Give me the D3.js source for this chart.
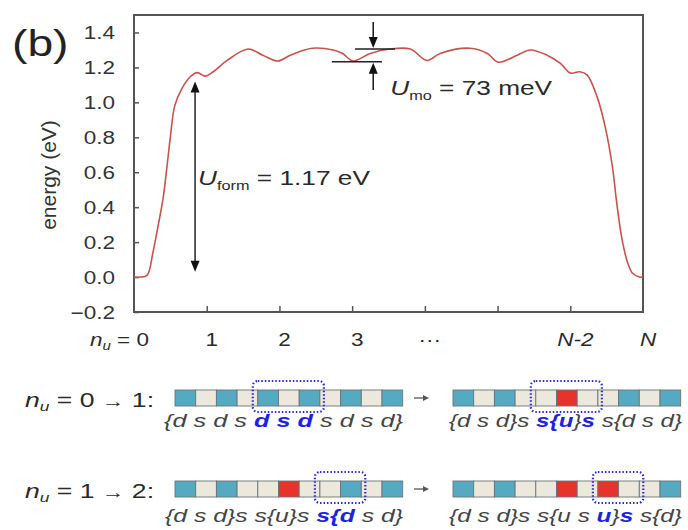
<!DOCTYPE html>
<html><head><meta charset="utf-8">
<script src="https://cdn.jsdelivr.net/npm/d3@7"></script>
<style>body{margin:0;background:#fff}svg{display:block}</style>
</head><body>
<svg id="c" width="688" height="530"></svg>
<script>
// ---- data ----
const positions = [0.00,0.08,0.18,0.26,0.33,0.40,0.45,0.50,0.56,0.66,0.77,0.87,0.98,1.09,1.28,1.57,1.77,1.98,2.15,2.45,2.74,2.87,3.01,3.25,3.52,3.80,4.03,4.21,4.62,4.86,5.01,5.27,5.45,5.68,5.86,6.00,6.13,6.23,6.37,6.48,6.58,6.64,6.71,6.79,6.86,6.95,7.00];
const energies  = [0.00,0.00,0.01,0.14,0.29,0.45,0.62,0.80,0.98,1.08,1.145,1.17,1.15,1.175,1.24,1.305,1.27,1.237,1.27,1.31,1.30,1.28,1.237,1.28,1.305,1.305,1.24,1.28,1.31,1.28,1.23,1.27,1.30,1.27,1.225,1.168,1.175,1.157,1.03,0.86,0.63,0.42,0.22,0.08,0.02,0.00,0.00];
const yTicks = [-0.2,0.0,0.2,0.4,0.6,0.8,1.0,1.2,1.4];
const xTicks = [1,2,3,4,5,6];
const xLabels = ["0","1","2","3","\u00b7\u00b7\u00b7","","N-2","N"];
const xLabelPos = [0,1,2,3,4,5,6,7];
const formTop = 1.12, formBottom = 0.03;
const moUpper = 1.305, moLower = 1.232;
const row1Left  = "dsdsdsdsdsd";
const row1Right = "dsdssussdsd";
const row2Left  = "dsdssussdsd";
const row2Right = "dsdssusussd";
const row1LeftBox = [4,6], row1RightBox = [4,6], row2LeftBox = [7,8], row2RightBox = [7,8];
// label text segments: [text, isBlue]
const row1LeftText  = [["{d s d s ",0],["d s d",1],[" s d s d}",0]];
const row1RightText = [["{d s d}s ",0],["s{u",1],["}",0],["s",1],[" s{d s d}",0]];
const row2LeftText  = [["{d s d}s s{u}s ",0],["s{d",1],[" s d}",0]];
const row2RightText = [["{d s d}s s{u s ",0],["u",1],["}",0],["s",1],[" s{d}",0]];

// ---- drawing ----
const svg = d3.select("#c");
const SX = 1.25;
const FONT = "'Liberation Sans', Arial, sans-serif";
const x = d3.scaleLinear().domain([0,7]).range([134,643]);
const y = d3.scaleLinear().domain([-0.2,1.5]).range([312,15]);

function txt(px, py, size, anchor, sx){
  return svg.append("text")
    .attr("transform", `translate(${px},${py}) scale(${sx||SX},1)`)
    .attr("font-family", FONT).attr("font-size", size)
    .attr("text-anchor", anchor||"start").attr("fill","#2a2a2a");
}

// (b)
txt(12, 56, 37).text("(b)").attr("fill","#222");

// frame
svg.append("rect").attr("x",134).attr("y",15).attr("width",509).attr("height",297)
  .attr("fill","none").attr("stroke","#555").attr("stroke-width",2);

// y axis ticks (inside)
const ya = svg.append("g").attr("transform","translate(134,0)")
  .call(d3.axisLeft(y).tickValues(yTicks).tickSizeInner(-5).tickSizeOuter(0).tickPadding(19).tickFormat(d3.format(".1f")));
ya.select(".domain").remove();
ya.selectAll(".tick line").attr("stroke","#555").attr("stroke-width",1.5);
ya.selectAll(".tick text").attr("font-family",FONT).attr("font-size",18).attr("fill","#333")
  .attr("x", -19/SX).attr("transform",`scale(${SX},1)`).attr("dy","0.35em");

// x axis ticks (inside)
const xa = svg.append("g").attr("transform","translate(0,312)")
  .call(d3.axisBottom(x).tickValues(xTicks).tickSizeInner(-6).tickSizeOuter(0).tickFormat(""));
xa.select(".domain").remove();
xa.selectAll(".tick line").attr("stroke","#555").attr("stroke-width",1.5);

// x labels
xLabelPos.forEach((p,i)=>{
  const lab = xLabels[i];
  if(!lab) return;
  if(i===0){
    const t = txt(x(p)+15, 346, 18, "end");
    t.append("tspan").attr("font-style","italic").text("n");
    t.append("tspan").attr("font-style","italic").attr("font-size",12).attr("dy",4).text("u");
    t.append("tspan").attr("dy",-4).text(" = 0");
  } else {
    const t = txt(x(p)+5, 346, 18, "middle");
    if(lab.indexOf("N")>=0) t.attr("font-style","italic");
    t.text(lab);
  }
});

// y label
svg.append("text").attr("transform","translate(56,175) rotate(-90)")
  .attr("font-family",FONT).attr("font-size",21).attr("text-anchor","middle").attr("fill","#333")
  .text("energy (eV)");

// curve
const pts = positions.map((p,i)=>[p,energies[i]]);
svg.append("path").datum(pts)
  .attr("d", d3.line().x(d=>x(d[0])).y(d=>y(d[1])).curve(d3.curveCatmullRom.alpha(0.5)))
  .attr("fill","none").attr("stroke","#c8524c").attr("stroke-width",1.6);

// arrows helper
function head(px, py, dir){ // dir: -1 tip up, 1 tip down
  const L=11, Wd=4.5;
  svg.append("path").attr("d",`M${px},${py} L${px-Wd},${py-dir*L} L${px+Wd},${py-dir*L} Z`).attr("fill","#111");
}
// U_form arrow
const fx = x(0.84);
svg.append("line").attr("x1",fx).attr("x2",fx).attr("y1",y(formTop)+6).attr("y2",y(formBottom)-6)
  .attr("stroke","#333").attr("stroke-width",1.6);
head(fx, y(formTop), -1);
head(fx, y(formBottom), 1);
{
  const t = txt(fx+3, 185, 21);
  t.append("tspan").attr("font-style","italic").text("U");
  t.append("tspan").attr("font-size",13).attr("dy",5).text("form");
  t.append("tspan").attr("dy",-5).text(" = 1.17 eV");
}

// U_mo annotation
svg.append("line").attr("x1",x(3.04)).attr("x2",x(3.59)).attr("y1",y(moUpper)).attr("y2",y(moUpper)).attr("stroke","#222").attr("stroke-width",1.6);
svg.append("line").attr("x1",x(2.72)).attr("x2",x(3.41)).attr("y1",y(moLower)).attr("y2",y(moLower)).attr("stroke","#222").attr("stroke-width",1.6);
const mx = x(3.29);
svg.append("line").attr("x1",mx).attr("x2",mx).attr("y1",22).attr("y2",y(moUpper)-8).attr("stroke","#222").attr("stroke-width",1.6);
head(mx, y(moUpper)-1, 1);
svg.append("line").attr("x1",mx).attr("x2",mx).attr("y1",90).attr("y2",y(moLower)+8).attr("stroke","#222").attr("stroke-width",1.6);
head(mx, y(moLower)+1, -1);
{
  const t = txt(mx+17, 95, 21);
  t.append("tspan").attr("font-style","italic").text("U");
  t.append("tspan").attr("font-size",13).attr("dy",5).text("mo");
  t.append("tspan").attr("dy",-5).text(" = 73 meV");
}

// ---- lower schematic ----
const BW = 20.7, BH = 16;
const colors = {d:"#55a9c0", s:"#ece9dc", u:"#e8332a"};
function strip(x0, top, states, box, segs, textY, tx0, tx1){
  const g = svg.append("g");
  states.split("").forEach((c,i)=>{
    g.append("rect").attr("x",x0+i*BW).attr("y",top).attr("width",BW).attr("height",BH)
      .attr("fill",colors[c]).attr("stroke","#6b7478").attr("stroke-width",0.9);
  });
  const bx0 = x0+box[0]*BW-5, bx1 = x0+(box[1]+1)*BW+4;
  g.append("rect").attr("x",bx0).attr("y",top-9).attr("width",bx1-bx0).attr("height",BH+15)
    .attr("rx",5).attr("fill","none").attr("stroke","#2b2bd6").attr("stroke-width",2.2).attr("stroke-dasharray","1.5,2");
  const t = g.append("text").attr("x",tx0).attr("y",textY)
    .attr("font-family",FONT).attr("font-size",18).attr("font-style","italic").attr("fill","#444")
    .attr("textLength", tx1-tx0).attr("lengthAdjust","spacingAndGlyphs").style("white-space","pre");
  segs.forEach(([s,b])=>{
    const ts = t.append("tspan").text(s);
    if(b) ts.attr("fill","#1f1fe6").attr("font-weight","bold");
  });
}
function rowLabel(py, a, b){
  const t = txt(25, py, 20, "start", 1.33);
  t.append("tspan").attr("font-style","italic").text("n");
  t.append("tspan").attr("font-style","italic").attr("font-size",13).attr("dy",4).text("u");
  t.append("tspan").attr("dy",-4).text(` = ${a} `);
  t.append("tspan").attr("font-size",17).text("\u2192");
  t.append("tspan").text(` ${b}:`);
}
function arrowR(px, py){
  svg.append("line").attr("x1",px-7).attr("x2",px+4).attr("y1",py).attr("y2",py).attr("stroke","#555").attr("stroke-width",1.3);
  svg.append("path").attr("d",`M${px+8},${py} L${px+2},${py-3} L${px+2},${py+3} Z`).attr("fill","#555");
}
rowLabel(407, 0, 1);
strip(175, 390, row1Left, row1LeftBox, row1LeftText, 427, 164, 403);
arrowR(421, 398);
strip(453, 390, row1Right, row1RightBox, row1RightText, 427, 449, 682);
rowLabel(498, 1, 2);
strip(175, 481, row2Left, row2LeftBox, row2LeftText, 522, 165, 403);
arrowR(421, 489);
strip(453, 481, row2Right, row2RightBox, row2RightText, 522, 449, 682);
</script>
</body></html>
